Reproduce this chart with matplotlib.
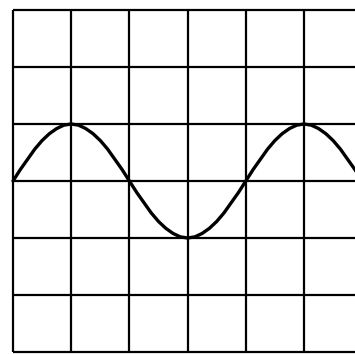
import numpy as np
import matplotlib
matplotlib.use("Agg")
import matplotlib.pyplot as plt

# grid lines, in grid cells
grid_x = [0, 1, 2, 3, 4, 5]
grid_y = [0, 1, 2, 3, 4, 5, 6]

# wave, every eighth of a cell
wave_x = [0.0, 0.125, 0.25, 0.375, 0.5, 0.625, 0.75, 0.875,
          1.0, 1.125, 1.25, 1.375, 1.5, 1.625, 1.75, 1.875,
          2.0, 2.125, 2.25, 2.375, 2.5, 2.625, 2.75, 2.875,
          3.0, 3.125, 3.25, 3.375, 3.5, 3.625, 3.75, 3.875,
          4.0, 4.125, 4.25, 4.375, 4.5, 4.625, 4.75, 4.875,
          5.0, 5.125, 5.25, 5.375, 5.5, 5.625, 5.75, 5.875, 6.0]
wave_y = [3.00, 3.20, 3.38, 3.56, 3.71, 3.83, 3.92, 3.98,
          4.00, 3.98, 3.92, 3.83, 3.71, 3.56, 3.38, 3.20,
          3.00, 2.80, 2.62, 2.44, 2.29, 2.17, 2.08, 2.02,
          2.00, 2.02, 2.08, 2.17, 2.29, 2.44, 2.62, 2.80,
          3.00, 3.20, 3.38, 3.56, 3.71, 3.83, 3.92, 3.98,
          4.00, 3.98, 3.92, 3.83, 3.71, 3.56, 3.38, 3.20, 3.00]

fig = plt.figure(figsize=(3.55, 3.54), dpi=100)
ax = fig.add_axes([0, 0, 1, 1])

xmin, xmax = -13 / 58.2, 342 / 58.2
ax.set_xlim(xmin, xmax)
ax.set_ylim(-2 / 57, 352 / 57)

ax.vlines(grid_x, 0, 6, color='black', lw=1.6)
ax.hlines(grid_y, 0, xmax, color='black', lw=1.6)

ax.plot(wave_x, wave_y, color='black', lw=2.4, solid_capstyle='round')

ax.axis('off')
fig.savefig("out.png", dpi=100)
